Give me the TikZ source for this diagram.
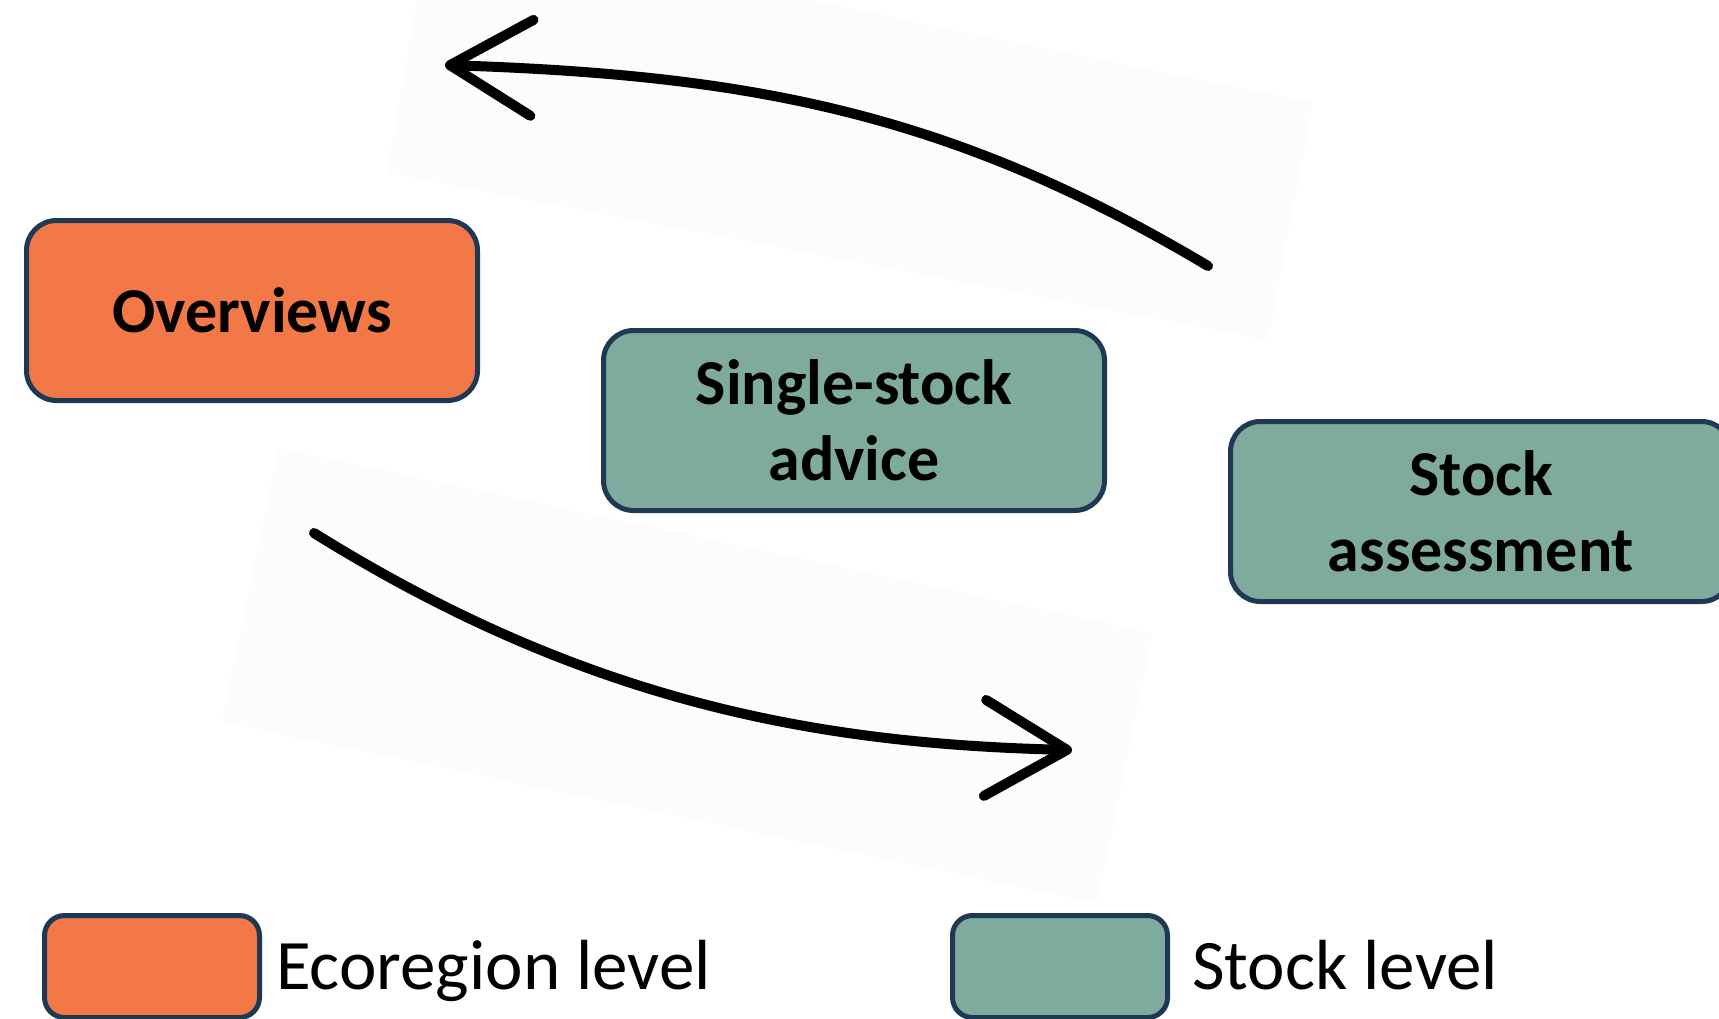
\documentclass[tikz,border=0pt]{standalone}
\usepackage{fontspec}
\setmainfont{Carlito}
\usetikzlibrary{positioning,arrows.meta}
\definecolor{ecoorange}{RGB}{242,120,71}
\definecolor{stockgreen}{RGB}{127,170,158}
\definecolor{boxborder}{RGB}{31,56,84}
\definecolor{paperback}{RGB}{252,252,252}
\tikzset{
	>={Straight Barb[length=82pt,width=96pt,round]},
	levelbox/.style={
		rectangle,
		rounded corners=30pt,
		draw=boxborder, line width=5pt,
		minimum width=501pt,
		minimum height=180pt,
		align=center,
		font=\fontsize{64}{76}\selectfont\bfseries},
	ecobox/.style={levelbox, fill=ecoorange},
	stockbox/.style={levelbox, fill=stockgreen},
	keybox/.style={
		rectangle,
		rounded corners=20pt,
		draw=boxborder, line width=5pt,
		minimum width=215pt,
		minimum height=102pt},
	keytext/.style={
		inner sep=0pt,
		text height=46pt, text depth=0pt,
		font=\fontsize{71}{80}\selectfont},
	flow/.style={draw, line width=10pt, line cap=round, ->},
	backsheet/.style={fill=paperback, draw=none},
}

\begin{document}
\begin{tikzpicture}[x=1pt,y=-1pt]
\useasboundingbox (0,0) rectangle (1719,1018);

% faint sheets behind the arrows
\fill[backsheet] (430,-77) -- (1313,103) -- (1268,340) -- (387,173) -- cycle;
\fill[backsheet] (278,448) -- (1153,633) -- (1097,903) -- (222,722) -- cycle;

\node[ecobox, minimum width=451pt] (overviews) at (252,310.5) {Overviews};
\node[stockbox] (single) at (854,420.5) {Single-stock\\advice};
\node[stockbox] (assess) at (1481,511.5) {Stock\\assessment};

\coordinate (upfrom) at (1208,266);
\coordinate (upto) at (445,65);
\coordinate (downfrom) at (314,533);
\coordinate (downto) at (1072,750);
\draw[flow] (upfrom) .. controls (950,112) and (749,75) .. (upto);
\draw[flow] (downfrom) .. controls (587,703) and (819,744) .. (downto);

% legend
\node[keybox, fill=ecoorange] (keyeco) at (152,966.5) {};
\node[keytext, right=14pt of keyeco] (keyecotext) {Ecoregion level};
\node[keybox, fill=stockgreen] (keystock) at (1060,966.5) {};
\node[keytext, right=22pt of keystock] (keystocktext) {Stock level};
\end{tikzpicture}
\end{document}
